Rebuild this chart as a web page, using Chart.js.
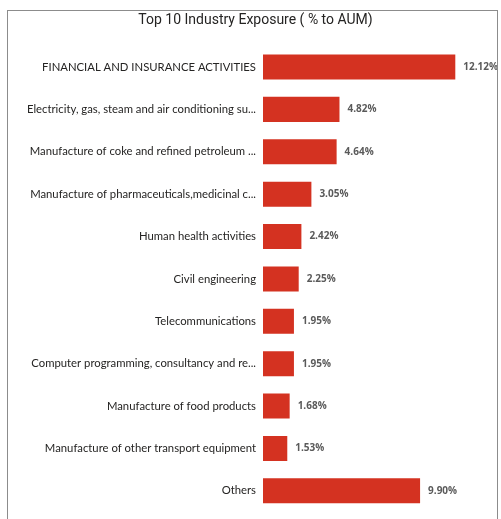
<!DOCTYPE html>
<html>
<head>
<meta charset="utf-8">
<script src="https://cdn.jsdelivr.net/npm/chart.js@4"></script>
<style>
html,body{margin:0;padding:0;background:#fff}
#wrap{position:relative;width:501px;height:519px}
#moldura{position:absolute;left:7px;top:10px;width:491px;height:509px;border:1px solid #8c8c8c;border-bottom:none;box-sizing:border-box;pointer-events:none}
</style>
</head>
<body>
<div id="wrap">
<canvas id="graficoIndustria"></canvas>
<div id="moldura"></div>
</div>
<script>
const titulo='Top 10 Industry Exposure ( % to AUM)'

const categorias=[
'FINANCIAL AND INSURANCE ACTIVITIES',
'Electricity, gas, steam and air conditioning su...',
'Manufacture of coke and refined petroleum ...',
'Manufacture of pharmaceuticals,medicinal c...',
'Human health activities',
'Civil engineering',
'Telecommunications',
'Computer programming, consultancy and re...',
'Manufacture of food products',
'Manufacture of other transport equipment',
'Others'
]

const valores=[12.12,4.82,4.64,3.05,2.42,2.25,1.95,1.95,1.68,1.53,9.90]

// escreve o % ao lado de cada barra
const rotulosValor={
id:'rotulosValor',
afterDatasetsDraw(chart){
let ctx=chart.ctx
let meta=chart.getDatasetMeta(0)
ctx.save()
ctx.font='bold 10px "Open Sans"'
ctx.fillStyle='#5a5a5a'
ctx.textAlign='left'
ctx.textBaseline='middle'
meta.data.forEach((barra,i)=>{
ctx.fillText(valores[i].toFixed(2)+'%',barra.x+8,barra.y)
})
ctx.restore()
}
}

new Chart(document.getElementById('graficoIndustria'),{
type:'bar',
data:{
labels:categorias,
datasets:[{
data:valores,
backgroundColor:'#d43221',
borderWidth:0,
barPercentage:0.59,
categoryPercentage:1
}]
},
options:{
indexAxis:'y',
responsive:true,
maintainAspectRatio:false,
animation:false,
layout:{
padding:{top:0,right:0,bottom:7,left:10}
},
plugins:{
legend:{display:false},
tooltip:{enabled:false},
title:{
display:true,
text:titulo,
color:'#252423',
font:{family:'Roboto',size:14,weight:'normal'},
padding:{top:12,bottom:17}
}
},
scales:{
x:{
display:false,
min:0,
max:15
},
y:{
grid:{display:false,drawTicks:false},
border:{display:false},
ticks:{
color:'#252423',
padding:7,
font:{family:'Lato',size:11.3}
},
afterFit(scale){
scale.width=253
// sem folga extra em cima/embaixo por causa dos rotulos
scale.paddingTop=0
scale.paddingBottom=0
}
}
}
},
plugins:[rotulosValor]
})
</script>
</body>
</html>
